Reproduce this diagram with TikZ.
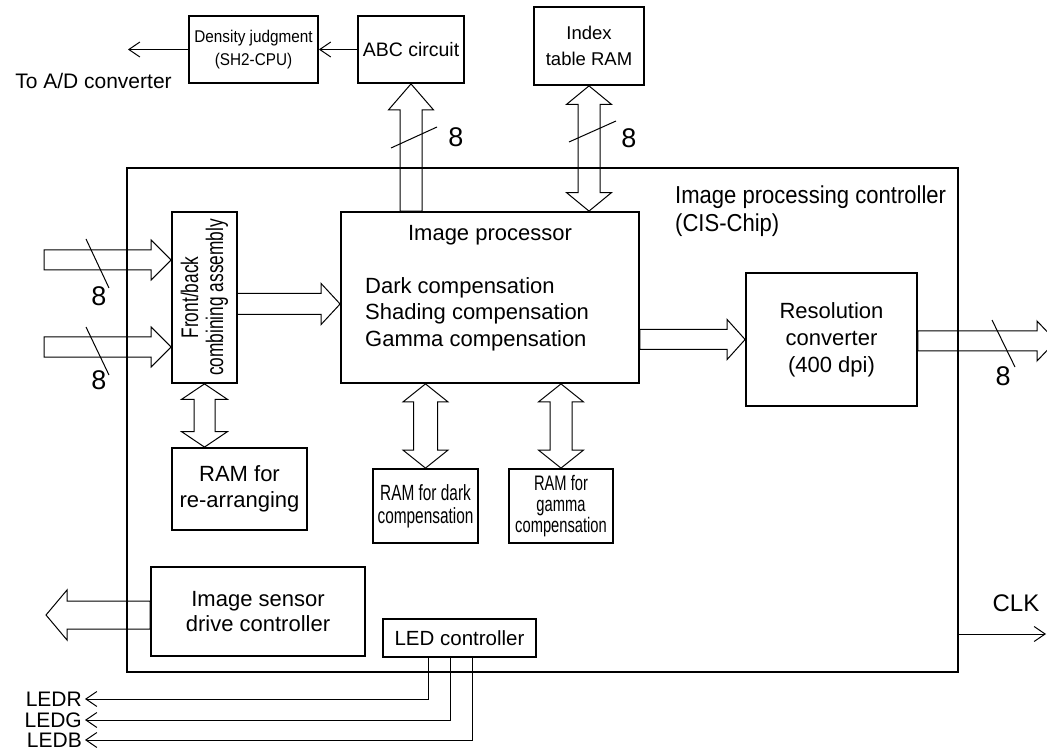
\documentclass[tikz,border=0pt]{standalone}
\usepackage{fontspec}
\setmainfont{Liberation Sans}
\newfontfamily\condf[FakeStretch=0.72]{Liberation Sans}
\newfontfamily\narrowA[FakeStretch=0.9]{Liberation Sans}
\newfontfamily\narrowB[FakeStretch=0.7]{Liberation Sans}
\usetikzlibrary{arrows.meta,calc}
\newcommand\fs[2]{\fontsize{#1}{#2}\selectfont}
\tikzset{
 box/.style={draw, line width=1.8pt, inner sep=0pt, align=center},
 blk/.style={draw, line width=1pt},
 sig/.style={line width=1pt, -{Straight Barb[length=11pt,width=15pt]}},
 slash/.style={line width=1pt},
 big/.style={font=\fs{22}{26}},
 small/.style={font={\narrowB\fs{22}{23}}},
 num/.style={font=\fs{27}{27}, inner sep=0pt},
 ledlbl/.style={anchor=east, inner sep=0pt, font=\fs{21}{21}},
}
% horizontal hollow arrow: #1 tail, #2 tip, #3 half shaft, #4 half head, #5 head length
\newcommand\harr[5]{\draw[blk] let \p1=(#1), \p2=(#2), \n1={ifthenelse(\x2>\x1,1,-1)*#5} in
  (\x1,{\y1+#3}) -- ({\x2-(\n1)},{\y1+#3}) -- ({\x2-(\n1)},{\y1+#4}) -- (\x2,\y1)
  -- ({\x2-(\n1)},{\y1-#4}) -- ({\x2-(\n1)},{\y1-#3}) -- (\x1,{\y1-#3}) -- cycle;}
% vertical hollow arrow
\newcommand\varr[5]{\draw[blk] let \p1=(#1), \p2=(#2), \n1={ifthenelse(\y2>\y1,1,-1)*#5} in
  ({\x1+#3},\y1) -- ({\x1+#3},{\y2-(\n1)}) -- ({\x1+#4},{\y2-(\n1)}) -- (\x1,\y2)
  -- ({\x1-#4},{\y2-(\n1)}) -- ({\x1-#3},{\y2-(\n1)}) -- ({\x1-#3},\y1) -- cycle;}
% vertical hollow double arrow
\newcommand\vdarr[5]{\draw[blk] let \p1=(#1), \p2=(#2), \n1={ifthenelse(\y2>\y1,1,-1)*#5} in
  (\x1,\y1) -- ({\x1+#4},{\y1+(\n1)}) -- ({\x1+#3},{\y1+(\n1)}) -- ({\x1+#3},{\y2-(\n1)})
  -- ({\x1+#4},{\y2-(\n1)}) -- (\x1,\y2) -- ({\x1-#4},{\y2-(\n1)}) -- ({\x1-#3},{\y2-(\n1)})
  -- ({\x1-#3},{\y1+(\n1)}) -- ({\x1-#4},{\y1+(\n1)}) -- cycle;}
\begin{document}
\begin{tikzpicture}[x=1pt,y=-1pt]
\clip (0,0) rectangle (1047,751);
\fill[white] (0,0) rectangle (1047,751);

% boxes
\node[box, minimum width=831pt, minimum height=504pt] (main) at (542.5,420) {};
\node[box, font={\narrowA\fs{17}{23}}, minimum width=129pt, minimum height=67pt] (dens) at (253.5,49.5) {Density judgment\\(SH2-CPU)};
\node[box, font=\fs{19.5}{24}, minimum width=106pt, minimum height=67pt] (abc) at (411,49.5) {ABC circuit};
\node[box, font=\fs{18.5}{26}, minimum width=110pt, minimum height=78pt] (idx) at (589,46) {Index\\table RAM};
\node[box, minimum width=65pt, minimum height=171pt] (fb) at (204.5,297.5) {};
\node[rotate=90, align=center, inner sep=0pt, font={\condf\fs{24}{25}}] (fbtxt) at (fb.center) {Front/back\\combining assembly};
\node[box, minimum width=298pt, minimum height=171pt] (ip) at (490,297.5) {};
\node[font=\fs{22}{26}, anchor=base] (iptitle) at (490,241) {Image processor};
\node[font=\fs{22}{26.5}, anchor=north west, align=left, inner sep=0pt] (iplist) at (365,277) {Dark compensation\\Shading compensation\\Gamma compensation};
\node[box, big, font=\fs{22}{27}, minimum width=171pt, minimum height=133pt] (rc) at (831.5,339.5) {Resolution\\converter\\(400 dpi)};
\node[box, big, minimum width=135pt, minimum height=82pt] (rram) at (239.5,489) {RAM for\\re-arranging};
\node[box, small, minimum width=105pt, minimum height=74pt] (dram) at (425.5,506) {RAM for dark\\compensation};
\node[box, font={\narrowB\fs{21}{21}}, minimum width=104pt, minimum height=74pt] (gram) at (561,506) {RAM for\\gamma\\compensation};
\node[box, big, font=\fs{22}{25}, minimum width=214pt, minimum height=89pt] (isd) at (258,611.5) {Image sensor\\drive controller};
\node[box, font=\fs{20.5}{24}, minimum width=153pt, minimum height=38pt] (led) at (459.5,638) {LED controller};

\node[anchor=north west, align=left, inner sep=0pt, font={\narrowA\fs{24.5}{28}}] (title) at (675,185.5) {Image processing controller\\(CIS-Chip)};

% hollow bus arrows
\varr{ip.north -| abc.south}{abc.south}{11}{22.5}{26}
\vdarr{idx.south}{idx.south |- ip.north}{11}{22.5}{18.5}
\coordinate (in1) at (44,260);
\coordinate (in2) at (44,347);
\harr{in1}{in1 -| fb.west}{10}{20}{20}
\harr{in2}{in2 -| fb.west}{10}{20}{20}
\coordinate (fbo) at (237,304);
\harr{fbo}{fbo -| ip.west}{10.5}{20.5}{19}
\harr{ip.east |- rc.west}{rc.west}{10}{20}{18}
\coordinate (outtip) at (1056,341);
\harr{rc.east |- outtip}{outtip}{10}{20}{19}
\vdarr{fb.south}{fb.south |- rram.north}{10.5}{23}{15.5}
\vdarr{ip.south -| dram.north}{dram.north}{12}{22.5}{18}
\vdarr{ip.south -| gram.north}{gram.north}{11}{22.5}{18}
\coordinate (sout) at (46,615);
\harr{isd.west |- sout}{sout}{14}{25}{21}

% bus width marks
\draw[slash] (391,148) -- (437,127);
\node[num] (n1) at (456,137) {8};
\draw[slash] (569,142) -- (616,121);
\node[num] (n2) at (629,138) {8};
\draw[slash] (86,239) -- (109,288);
\node[num] (n3) at (99,296) {8};
\draw[slash] (86,327) -- (109,375);
\node[num] (n4) at (99,380) {8};
\draw[slash] (992,320) -- (1015,367);
\node[num] (n5) at (1003,376) {8};

% signal arrows
\draw[sig] (abc.west) -- (dens.east);
\coordinate (adtip) at (128,49.5);
\draw[sig] (dens.west) -- (adtip);
\node[font=\fs{21}{21}, anchor=base] (adlbl) at (93.5,89) {To A/D converter};

\node[font=\fs{24}{24}] (clk) at (1016,603) {CLK};
\coordinate (clkend) at (1046,634);
\draw[sig] (main.east |- clkend) -- (clkend);

\node[ledlbl] (ledr) at (82,699) {LEDR};
\node[ledlbl] (ledg) at (82,720) {LEDG};
\node[ledlbl] (ledb) at (82,740) {LEDB};
\draw[sig] (led.south -| 428,0) |- ([xshift=3pt]ledr.east);
\draw[sig] (led.south -| 450,0) |- ([xshift=3pt]ledg.east);
\draw[sig] (led.south -| 472,0) |- ([xshift=3pt]ledb.east);
\end{tikzpicture}
\end{document}
